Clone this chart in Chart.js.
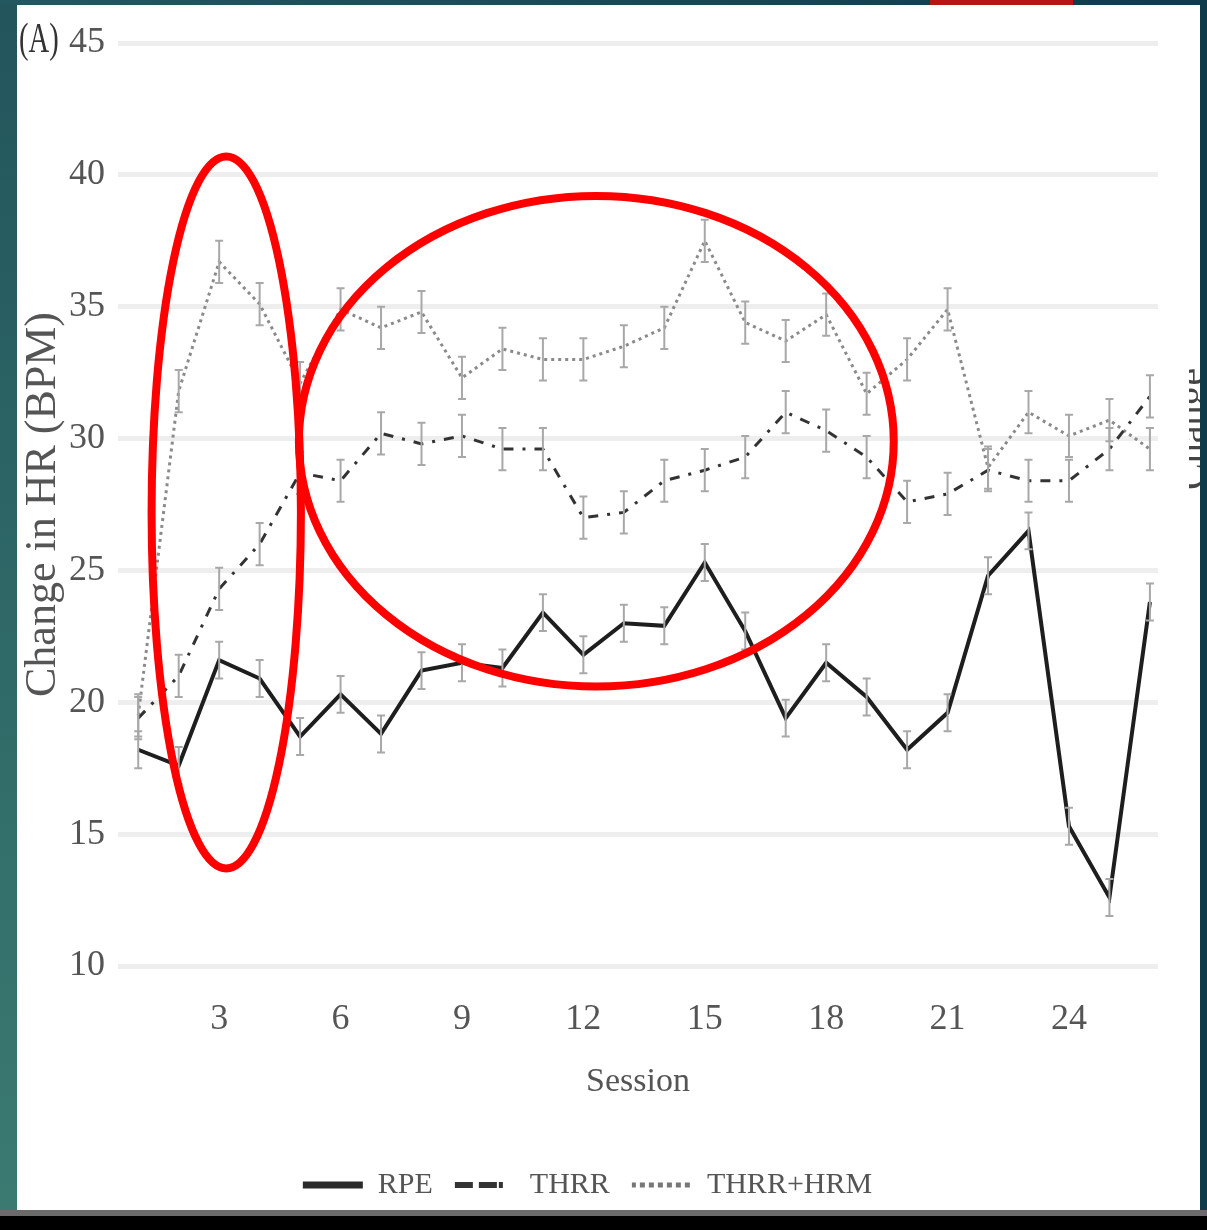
<!DOCTYPE html>
<html>
<head>
<meta charset="utf-8">
<script src="https://cdn.jsdelivr.net/npm/chart.js@4"></script>
<style>
  body { margin: 0; width: 1207px; height: 1230px; overflow: hidden; position: relative; background: #0f3a4a; }
  #left { position: absolute; left: 0; top: 0; width: 17px; height: 1230px; background: linear-gradient(to bottom, #22555c, #3b7b72); }
  #top { position: absolute; left: 0; top: 0; width: 1207px; height: 5px; background: linear-gradient(to right, #235860, #103a4a); }
  #redbar { position: absolute; left: 930px; top: 0; width: 143px; height: 5px; background: #b31616; }
  #panel { position: absolute; left: 17px; top: 5px; width: 1183px; height: 1205px; background: #fff; }
  #foot { position: absolute; left: 0; top: 1210px; width: 1207px; height: 20px; background: #000; border-top: 6px solid #6b6b6b; box-sizing: border-box; }
  #tag { position: absolute; left: 19px; top: 14px; font: 42px 'Liberation Serif', serif; color: #333; transform-origin: 0 0; transform: scaleX(0.68); }
  #cut { position: absolute; left: 1189px; top: 350px; width: 11px; height: 140px; overflow: hidden; }
  #cut span { position: absolute; left: -22px; top: 140px; transform-origin: 0 0; transform: rotate(-90deg); font: 40px 'Liberation Serif', serif; color: #444; white-space: nowrap; }
</style>
</head>
<body>
<div id="left"></div>
<div id="top"></div>
<div id="redbar"></div>
<div id="panel"><canvas id="hrChart" width="1183" height="1205"></canvas></div>
<div id="cut"><span>Change</span></div>
<div id="tag">(A)</div>
<div id="foot"></div>
<script>
const sessions = [1, 2, 3, 4, 5, 6, 7, 8, 9, 10, 11, 12, 13, 14, 15, 16, 17, 18, 19, 20, 21, 22, 23, 24, 25, 26];
const sessionTicks = [3, 6, 9, 12, 15, 18, 21, 24];
const hrTicks = [10, 15, 20, 25, 30, 35, 40, 45];
const seriesNames = ['RPE', 'THRR', 'THRR+HRM'];

const rpe = [18.2, 17.6, 21.6, 20.9, 18.7, 20.3, 18.8, 21.2, 21.5, 21.3, 23.4, 21.8, 23.0, 22.9, 25.3, 22.7, 19.4, 21.5, 20.2, 18.2, 19.6, 24.8, 26.5, 15.3, 12.6, 23.8];
const thrr = [19.4, 21.0, 24.3, 26.0, 28.7, 28.4, 30.2, 29.8, 30.1, 29.6, 29.6, 27.0, 27.2, 28.4, 28.8, 29.3, 31.0, 30.3, 29.3, 27.6, 27.9, 28.8, 28.4, 28.4, 29.6, 31.6];
const thrrHrm = [19.5, 31.8, 36.7, 35.1, 32.1, 34.9, 34.2, 34.8, 32.3, 33.4, 33.0, 33.0, 33.5, 34.2, 37.5, 34.4, 33.7, 34.7, 31.7, 33.0, 34.9, 28.9, 31.0, 30.1, 30.7, 29.6];

// red rings drawn over the figure, in session / bpm units
const rings = [
  { x0: 1.33, x1: 5.02, y0: 13.7, y1: 40.7 },
  { x0: 4.97, x1: 19.67, y0: 20.6, y1: 39.2 }
];

const serif = "'Liberation Serif', 'Times New Roman', serif";
const toPoints = vals => vals.map((v, i) => ({ x: sessions[i], y: v }));

// small error bars on every session point
const errorBars = {
  id: 'errorBars',
  afterDatasetsDraw(chart) {
    const { ctx, scales: { y } } = chart;
    chart.data.datasets.forEach((ds, i) => {
      const meta = chart.getDatasetMeta(i);
      ctx.save();
      ctx.strokeStyle = '#a8a8a8';
      ctx.lineWidth = 2;
      meta.data.forEach((pt, j) => {
        const v = ds.data[j].y;
        const top = y.getPixelForValue(v + ds.errorBar);
        const bot = y.getPixelForValue(v - ds.errorBar);
        ctx.beginPath();
        ctx.moveTo(pt.x, top); ctx.lineTo(pt.x, bot);
        ctx.moveTo(pt.x - 4, top); ctx.lineTo(pt.x + 4, top);
        ctx.moveTo(pt.x - 4, bot); ctx.lineTo(pt.x + 4, bot);
        ctx.stroke();
      });
      ctx.restore();
    });
  }
};

const redRings = {
  id: 'redRings',
  afterDraw(chart) {
    const { ctx, scales: { x, y } } = chart;
    ctx.save();
    ctx.strokeStyle = '#ff0000';
    ctx.lineWidth = 8;
    rings.forEach(r => {
      const l = x.getPixelForValue(r.x0), rt = x.getPixelForValue(r.x1);
      const t = y.getPixelForValue(r.y1), b = y.getPixelForValue(r.y0);
      ctx.beginPath();
      ctx.ellipse((l + rt) / 2, (t + b) / 2, (rt - l) / 2, (b - t) / 2, 0, 0, Math.PI * 2);
      ctx.stroke();
    });
    ctx.restore();
  }
};

new Chart(document.getElementById('hrChart').getContext('2d'), {
  type: 'line',
  data: {
    datasets: [
      { label: seriesNames[0], data: toPoints(rpe), borderColor: '#1e1e1e', borderWidth: 4, errorBar: 0.7,
        legendColor: '#2a2a2a', legendWidth: 7, legendDash: [] },
      { label: seriesNames[1], data: toPoints(thrr), borderColor: '#333', borderWidth: 3, borderDash: [10, 9, 3, 9], errorBar: 0.8,
        legendColor: '#333', legendWidth: 6, legendDash: [18, 12, 4, 10, 4, 30] },
      { label: seriesNames[2], data: toPoints(thrrHrm), borderColor: '#8a8a8a', borderWidth: 3, borderDash: [3, 4], errorBar: 0.8,
        legendColor: '#777', legendWidth: 5, legendDash: [4, 5] }
    ]
  },
  options: {
    responsive: false,
    animation: false,
    elements: { point: { radius: 0 }, line: { tension: 0, fill: false } },
    layout: { padding: { left: 0, right: 42, top: 38, bottom: 0 } },
    scales: {
      x: {
        type: 'linear', min: 0.5, max: 26.2,
        afterBuildTicks: s => { s.ticks = sessionTicks.map(v => ({ value: v })); },
        afterFit: s => { s.height = 182; },
        grid: { display: false },
        border: { display: false },
        ticks: { font: { family: serif, size: 36 }, color: '#555', padding: 24, maxRotation: 0, autoSkip: false },
        title: { display: true, text: 'Session', font: { family: serif, size: 34 }, color: '#555', padding: { top: 0, bottom: 46 } }
      },
      y: {
        min: 10, max: 45,
        afterBuildTicks: s => { s.ticks = hrTicks.map(v => ({ value: v })); },
        afterFit: s => { s.width = 101; },
        grid: { color: '#eeeeee', lineWidth: 5, drawTicks: false },
        border: { display: false },
        ticks: { font: { family: serif, size: 36 }, color: '#555', padding: 13 },
        title: { display: true, text: 'Change in HR (BPM)', font: { family: serif, size: 44 }, color: '#555', padding: { top: 0, bottom: 0 } }
      }
    },
    plugins: {
      tooltip: { enabled: false },
      legend: {
        position: 'bottom',
        labels: {
          boxWidth: 60, boxHeight: 0, padding: 22,
          font: { family: serif, size: 30 }, color: '#555',
          generateLabels: chart => chart.data.datasets.map((ds, i) => ({
            text: ds.label, datasetIndex: i, hidden: false,
            fillStyle: 'rgba(0,0,0,0)', strokeStyle: ds.legendColor,
            lineWidth: ds.legendWidth, lineDash: ds.legendDash, fontColor: '#555'
          }))
        }
      }
    }
  },
  plugins: [errorBars, redRings]
});
</script>
</body>
</html>
